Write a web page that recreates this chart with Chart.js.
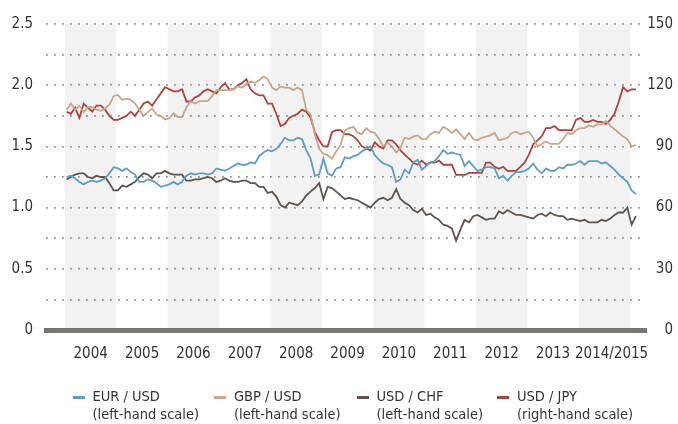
<!DOCTYPE html>
<html>
<head>
<meta charset="utf-8">
<script src="https://cdn.jsdelivr.net/npm/chart.js@4/dist/chart.umd.min.js"></script>
<style>
html, body { margin: 0; padding: 0; background: #ffffff; }
#wrap { position: relative; width: 678px; height: 424px; overflow: hidden; }
#c { position: absolute; left: 0; top: 0; }
#legend { position: absolute; left: 0; top: 0; width: 678px; height: 424px; pointer-events: none;
  font-family: 'DejaVu Sans Condensed', 'DejaVu Sans', sans-serif;
  font-size: 14.5px; color: #333333; }
.item { position: absolute; top: 387px; }
.sw { position: absolute; left: 0; top: 9px; width: 12px; height: 3px; }
.txt { position: absolute; left: 20px; top: 0; white-space: nowrap; line-height: 18px; }
</style>
</head>
<body>
<div id="wrap">
  <canvas id="c" width="678" height="424"></canvas>
  <div id="legend"></div>
</div>
<script>
// ---------------- DATA (monthly, starting January 2004) ----------------
const startYear = 2004.03;           // first observation (early January 2004)
const stepYears = 1 / 12;            // one observation per month

const seriesNames = ['EUR / USD', 'GBP / USD', 'USD / CHF', 'USD / JPY'];
const seriesScales = ['(left-hand scale)', '(left-hand scale)', '(left-hand scale)', '(right-hand scale)'];

const eurUsd = [
  1.25,1.26,1.24,1.21,1.19,1.21,1.22,1.21,1.22,1.24,1.28,1.33,
  1.32,1.30,1.32,1.29,1.27,1.21,1.21,1.23,1.22,1.20,1.17,1.18,
  1.19,1.21,1.19,1.21,1.26,1.28,1.27,1.28,1.28,1.27,1.28,1.32,
  1.31,1.30,1.32,1.34,1.36,1.35,1.35,1.37,1.36,1.42,1.45,1.47,
  1.46,1.48,1.52,1.57,1.55,1.55,1.57,1.56,1.47,1.40,1.26,1.27,
  1.40,1.28,1.26,1.32,1.33,1.41,1.40,1.42,1.43,1.46,1.48,1.50,
  1.43,1.39,1.36,1.35,1.33,1.21,1.23,1.31,1.28,1.37,1.39,1.31,
  1.34,1.37,1.38,1.42,1.47,1.44,1.45,1.44,1.43,1.34,1.38,1.34,
  1.30,1.31,1.33,1.33,1.32,1.24,1.26,1.22,1.26,1.29,1.29,1.30,
  1.32,1.36,1.31,1.28,1.32,1.30,1.30,1.33,1.32,1.35,1.35,1.36,
  1.38,1.35,1.38,1.38,1.38,1.36,1.37,1.34,1.31,1.27,1.24,1.21,
  1.14,1.11
];

const gbpUsd = [
  1.80,1.85,1.80,1.83,1.78,1.82,1.82,1.80,1.79,1.81,1.84,1.91,
  1.92,1.88,1.89,1.88,1.85,1.80,1.75,1.78,1.81,1.76,1.75,1.72,
  1.73,1.77,1.74,1.74,1.82,1.87,1.85,1.87,1.87,1.87,1.91,1.96,
  1.96,1.96,1.96,1.97,1.99,1.98,2.01,2.03,2.02,2.04,2.07,2.05,
  1.98,1.96,1.99,1.98,1.98,1.96,1.98,1.96,1.80,1.76,1.60,1.48,
  1.44,1.43,1.40,1.46,1.51,1.63,1.65,1.66,1.61,1.60,1.65,1.62,
  1.61,1.56,1.50,1.53,1.50,1.45,1.49,1.57,1.56,1.58,1.59,1.56,
  1.56,1.60,1.62,1.61,1.66,1.64,1.61,1.64,1.60,1.56,1.61,1.56,
  1.55,1.57,1.58,1.59,1.61,1.55,1.56,1.57,1.61,1.62,1.60,1.61,
  1.62,1.57,1.50,1.52,1.54,1.52,1.52,1.52,1.56,1.61,1.60,1.63,
  1.65,1.65,1.67,1.66,1.68,1.68,1.71,1.67,1.64,1.61,1.58,1.56,
  1.50,1.51
];

const usdChf = [
  1.23,1.25,1.27,1.28,1.28,1.25,1.24,1.26,1.25,1.25,1.20,1.14,
  1.14,1.18,1.17,1.19,1.21,1.25,1.28,1.27,1.24,1.28,1.28,1.30,
  1.28,1.27,1.27,1.27,1.22,1.22,1.23,1.23,1.24,1.25,1.24,1.21,
  1.22,1.24,1.22,1.21,1.21,1.22,1.22,1.20,1.20,1.17,1.17,1.12,
  1.13,1.09,1.02,1.00,1.04,1.03,1.02,1.05,1.10,1.13,1.16,1.20,
  1.07,1.17,1.16,1.13,1.10,1.07,1.08,1.07,1.06,1.04,1.02,1.00,
  1.04,1.07,1.08,1.06,1.08,1.15,1.07,1.04,1.02,0.98,0.96,0.99,
  0.94,0.95,0.92,0.90,0.86,0.85,0.83,0.73,0.82,0.90,0.88,0.93,
  0.94,0.92,0.90,0.91,0.91,0.97,0.95,0.98,0.96,0.94,0.94,0.93,
  0.92,0.91,0.94,0.95,0.93,0.96,0.94,0.93,0.93,0.90,0.91,0.90,
  0.89,0.90,0.88,0.88,0.88,0.90,0.89,0.91,0.94,0.96,0.96,1.00,
  0.86,0.93
];

const usdJpy = [
  107,106,109,104,111,109,107,110,110,108,105,103,
  103,104,105,107,105,108,111,112,110,113,116,119,
  118,117,117,118,112,112,114,115,117,118,117,116,
  119,121,118,118,120,121,123,118,116,115,115,111,
  111,106,100,101,104,105,106,108,107,104,97,93,
  90,90,97,98,98,96,96,95,93,90,89,88,
  92,90,89,93,93,91,88,86,84,82,81,83,
  81,82,82,83,81,81,81,76,76,76,77,77,
  77,77,82,82,80,79,80,78,78,78,80,82,
  86,91,93,95,99,99,100,98,98,98,98,103,
  104,102,102,103,102,102,101,103,106,112,119,117,
  118,118
];

const seriesValues = [eurUsd, gbpUsd, usdChf, usdJpy];
const seriesAxis = ['y', 'y', 'y', 'y1'];
const seriesColors = ['#5b9fc2', '#c9a588', '#5f544c', '#b0413c'];

const yearLabels = ['2004','2005','2006','2007','2008','2009','2010','2011','2012','2013','2014/2015'];
const yearLabelPos = [2004.5,2005.5,2006.5,2007.5,2008.5,2009.5,2010.5,2011.5,2012.5,2013.5,2014.64];
const shadedYears = [2004, 2006, 2008, 2010, 2012, 2014];

const leftMax = 2.5, leftStep = 0.25;
const rightMax = 150, rightStep = 30;
const xMin = 2003.63, xMax = 2015.31;

// ---------------- CHART ----------------
const FONT = "'DejaVu Sans Condensed', 'DejaVu Sans', sans-serif";
Chart.defaults.font.family = FONT;
Chart.defaults.font.size = 15;
Chart.defaults.color = '#333333';

const bandsPlugin = {
  id: 'bands',
  beforeDraw(chart) {
    const { ctx, chartArea: a, scales: { x } } = chart;
    ctx.save();
    ctx.fillStyle = '#f2f2f2';
    shadedYears.forEach(yr => {
      const l = x.getPixelForValue(yr);
      const r = x.getPixelForValue(yr + 1);
      ctx.fillRect(l, a.top, r - l, a.bottom - a.top);
    });
    ctx.restore();
  }
};

const datasets = seriesValues.map((vals, k) => ({
  label: seriesNames[k],
  data: vals.map((v, i) => ({ x: startYear + i * stepYears, y: v })),
  yAxisID: seriesAxis[k],
  borderColor: seriesColors[k],
  borderWidth: 1.8,
  pointRadius: 0,
  tension: 0,
  fill: false
}));

new Chart(document.getElementById('c'), {
  type: 'line',
  data: { datasets },
  plugins: [bandsPlugin],
  options: {
    responsive: false,
    animation: false,
    devicePixelRatio: 1,
    events: [],
    layout: { padding: { top: 24, right: 5, bottom: 0, left: 0 } },
    plugins: { legend: { display: false }, tooltip: { enabled: false } },
    scales: {
      x: {
        type: 'linear',
        min: xMin,
        max: xMax,
        afterBuildTicks: s => { s.ticks = yearLabelPos.map(v => ({ value: v })); },
        afterFit: s => { s.height = 94; },
        ticks: {
          autoSkip: false, maxRotation: 0, minRotation: 0, padding: 15,
          callback: (v, i) => yearLabels[i]
        },
        grid: { display: false, drawTicks: false },
        border: { display: true, color: '#787670', width: 5 }
      },
      y: {
        position: 'left',
        min: 0, max: leftMax,
        afterFit: s => { s.width = 46; },
        ticks: {
          stepSize: leftStep, padding: 13,
          callback: v => (Math.abs(v % 0.5) < 1e-9 ? (v === 0 ? '0' : v.toFixed(1)) : '')
        },
        grid: {
          drawTicks: false,
          lineWidth: 1.8,
          color: c => (c.tick && c.tick.value === 0 ? 'rgba(0,0,0,0)' : '#939393')
        },
        border: { display: false, dash: [1.8, 6.2] }
      },
      y1: {
        position: 'right',
        min: 0, max: rightMax,
        afterFit: s => { s.width = 27; },
        ticks: { stepSize: rightStep, padding: 4, crossAlign: 'far' },
        grid: { drawOnChartArea: false, drawTicks: false },
        border: { display: false }
      }
    }
  }
});

// ---------------- LEGEND (HTML text) ----------------
const legendLeft = [72.5, 214, 356.5, 497];
const legend = document.getElementById('legend');
seriesNames.forEach((name, k) => {
  const item = document.createElement('div');
  item.className = 'item';
  item.style.left = legendLeft[k] + 'px';
  const sw = document.createElement('div');
  sw.className = 'sw';
  sw.style.background = seriesColors[k];
  const txt = document.createElement('div');
  txt.className = 'txt';
  txt.innerHTML = name + '<br>' + seriesScales[k];
  item.appendChild(sw);
  item.appendChild(txt);
  legend.appendChild(item);
});
</script>
</body>
</html>
